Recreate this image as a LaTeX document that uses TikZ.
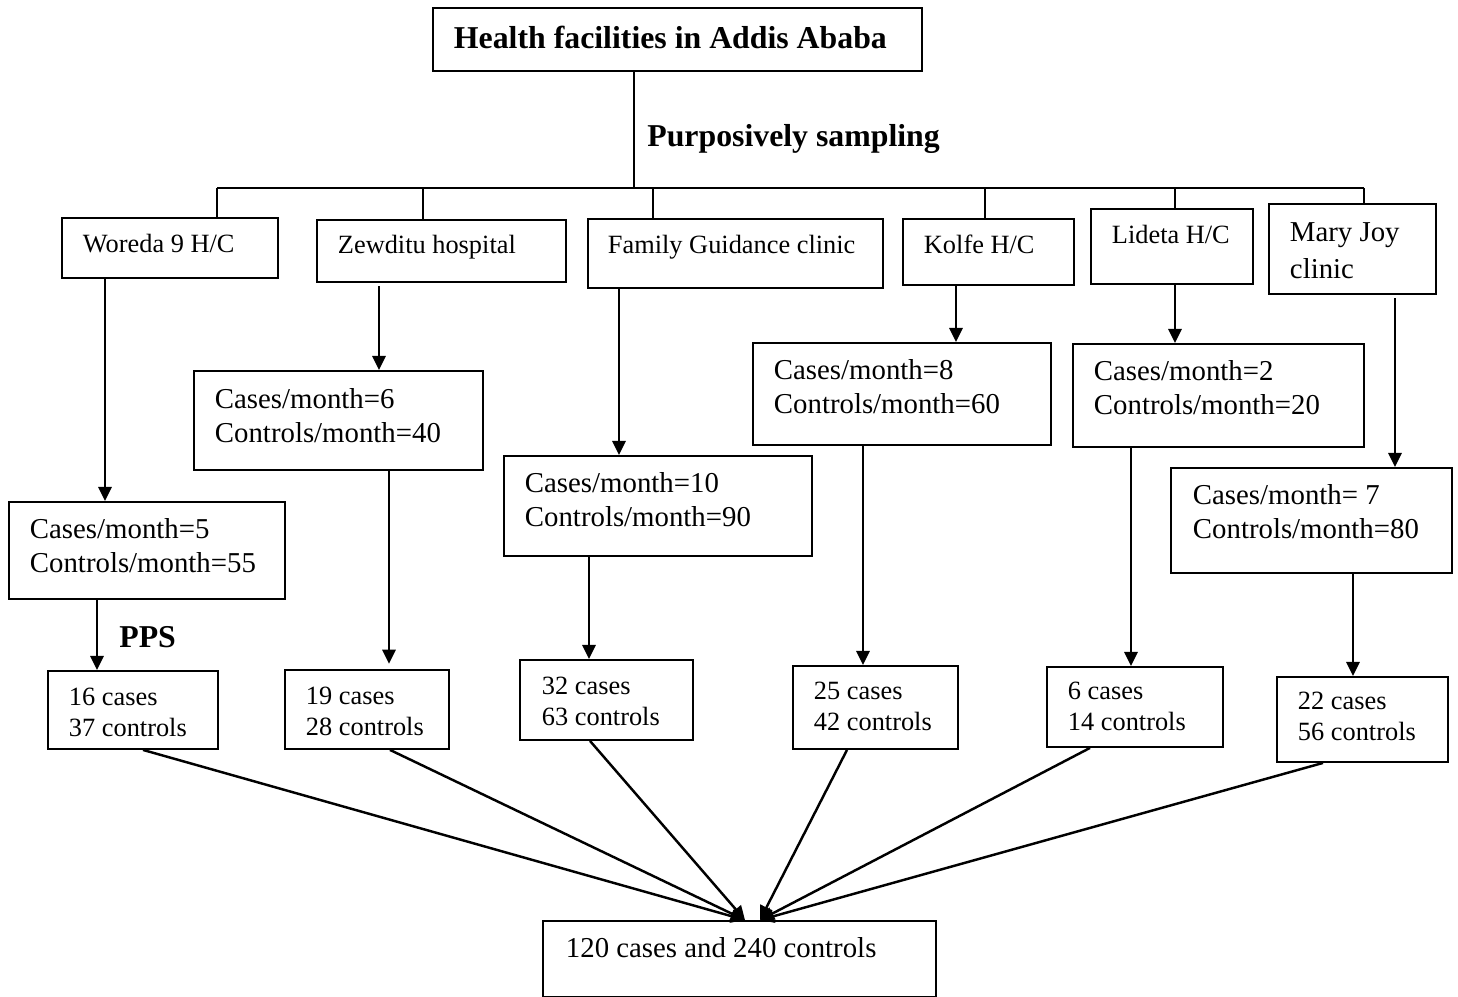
\documentclass[tikz,border=0pt]{standalone}
\usepackage{fontspec}
\setmainfont{Liberation Serif}
\usetikzlibrary{arrows.meta,positioning,calc}
\tikzset{% 
  site box/.style={%
    draw,
    line width=1.1pt,
    anchor=north west,
    inner ysep=0pt,
    align=flush left
  }
}
\tikzset{% 
  name text/.style={%
    font=\fontsize{15}{17.3}\selectfont
  },
  rate text/.style={%
    font=\fontsize{16.4}{19.3}\selectfont
  },
  head text/.style={%
    font=\fontsize{18.1}{21}\selectfont\bfseries
  }
}
\tikzset{% 
  flow arrow/.style={%
    line width=1.4pt,
    -{Triangle[length=8pt,width=7.5pt]}
  }
}
\tikzset{% 
  branch line/.style={%
    line width=1pt
  }
}

\begin{document}
\begin{tikzpicture}[x=0.02cm,y=-0.02cm]
  \useasboundingbox (0,0) rectangle (1458,997);
  \node [site box, head text, inner xsep=0.42cm, text width=8.94cm, text height=0.82cm, text depth=0.44cm] (top) at (432,7) {Health facilities in Addis Ababa};
  \node [head text, anchor=base west, inner sep=0pt] (purpose) at (647,147) {Purposively sampling};
  % facilities
  \node [site box, name text, inner xsep=0.42cm, text width=3.48cm, text height=0.70cm, text depth=0.50cm] (woreda) at (61,217) {Woreda~9~H/C};
  \node [site box, name text, inner xsep=0.42cm, text width=4.14cm, text height=0.68cm, text depth=0.56cm] (zewditu) at (316,219) {Zewditu~hospital};
  \node [site box, name text, inner xsep=0.40cm, text width=5.10cm, text height=0.70cm, text depth=0.68cm] (family) at (587,218) {Family~Guidance~clinic};
  \node [site box, name text, inner xsep=0.42cm, text width=2.58cm, text height=0.70cm, text depth=0.62cm] (kolfe) at (902,218) {Kolfe~H/C};
  \node [site box, name text, inner xsep=0.42cm, text width=2.40cm, text height=0.70cm, text depth=0.80cm] (lideta) at (1090,208) {Lideta~H/C};
  \node [site box, rate text, font=\fontsize{16.4}{21}\selectfont, inner xsep=0.42cm, text width=2.50cm, text height=0.76cm, text depth=1.04cm] (mary) at (1268,203) {Mary~Joy\\clinic};
  % monthly flow
  \node [site box, rate text, inner xsep=0.42cm, text width=4.68cm, text height=0.74cm, text depth=1.20cm] (wrate) at (8,501) {Cases/month=5\\Controls/month=55};
  \node [site box, rate text, inner xsep=0.42cm, text width=4.94cm, text height=0.76cm, text depth=1.22cm] (zrate) at (193,370) {Cases/month=6\\Controls/month=40};
  \node [site box, rate text, inner xsep=0.42cm, text width=5.32cm, text height=0.74cm, text depth=1.26cm] (frate) at (503,455) {Cases/month=10\\Controls/month=90};
  \node [site box, rate text, inner xsep=0.42cm, text width=5.12cm, text height=0.74cm, text depth=1.30cm] (krate) at (752,342) {Cases/month=8\\Controls/month=60};
  \node [site box, rate text, inner xsep=0.42cm, text width=4.98cm, text height=0.74cm, text depth=1.32cm] (lrate) at (1072,343) {Cases/month=2\\Controls/month=20};
  \node [site box, rate text, inner xsep=0.44cm, text width=4.74cm, text height=0.74cm, text depth=1.36cm] (mrate) at (1170,467) {Cases/month=~7\\Controls/month=80};
  % samples
  \node [site box, name text, inner xsep=0.42cm, text width=2.56cm, text height=0.70cm, text depth=0.86cm] (wsample) at (47,670) {16~cases\\37~controls};
  \node [site box, name text, inner xsep=0.42cm, text width=2.44cm, text height=0.70cm, text depth=0.88cm] (zsample) at (284,669) {19~cases\\28~controls};
  \node [site box, name text, inner xsep=0.44cm, text width=2.58cm, text height=0.70cm, text depth=0.90cm] (fsample) at (519,659) {32~cases\\63~controls};
  \node [site box, name text, inner xsep=0.42cm, text width=2.46cm, text height=0.68cm, text depth=0.98cm] (ksample) at (792,665) {25~cases\\42~controls};
  \node [site box, name text, inner xsep=0.42cm, text width=2.68cm, text height=0.66cm, text depth=0.94cm] (lsample) at (1046,666) {6~cases\\14~controls};
  \node [site box, name text, inner xsep=0.42cm, text width=2.58cm, text height=0.66cm, text depth=1.04cm] (msample) at (1276,676) {22~cases\\56~controls};
  \node [site box, rate text, inner xsep=0.46cm, text width=6.94cm, text height=0.74cm, text depth=0.78cm] (total) at (542,920) {120~cases~and~240~controls};
  \node [head text, anchor=base west, inner sep=0pt] (pps) at (119,647) {PPS};
  % branches
  \coordinate (busl) at (217,188);
  \coordinate (busr) at (1364,188);
  \draw [line width=0.8pt] (634,0 |- top.south) -- (634,0 |- busl);
  \draw [branch line] (busl) -- (busr);
  \foreach \dst/\dx in {woreda/217, zewditu/423, family/653, kolfe/985, lideta/1175, mary/1364}
    \draw [branch line] (\dx,0 |- busl) -- (\dx,0 |- \dst.north);
  % arrows down
  \draw [flow arrow] (105,0 |- woreda.south) -- (105,0 |- wrate.north);
  \draw [flow arrow, shorten <=2pt] (379,0 |- zewditu.south) -- (379,0 |- zrate.north);
  \draw [flow arrow] (619,0 |- family.south) -- (619,0 |- frate.north);
  \draw [flow arrow] (956,0 |- kolfe.south) -- (956,0 |- krate.north);
  \draw [flow arrow] (1175,0 |- lideta.south) -- (1175,0 |- lrate.north);
  \draw [flow arrow, shorten <=2pt] (1395,0 |- mary.south) -- (1395,0 |- mrate.north);
  \draw [flow arrow] (97,0 |- wrate.south) -- (97,0 |- wsample.north);
  \draw [flow arrow, shorten >=3pt] (389,0 |- zrate.south) -- (389,0 |- zsample.north);
  \draw [flow arrow] (589,0 |- frate.south) -- (589,0 |- fsample.north);
  \draw [flow arrow] (863,0 |- krate.south) -- (863,0 |- ksample.north);
  \draw [flow arrow] (1131,0 |- lrate.south) -- (1131,0 |- lsample.north);
  \draw [flow arrow] (1353,0 |- mrate.south) -- (1353,0 |- msample.north);
  % to total
  \foreach \src/\sx/\tx in {wsample/143/745, zsample/390/745, fsample/590/745, ksample/847/760, lsample/1090/760, msample/1323/760}
    \draw [flow arrow] (\sx,0 |- \src.south) -- (\tx,0 |- total.north);
\end{tikzpicture}
\end{document}
